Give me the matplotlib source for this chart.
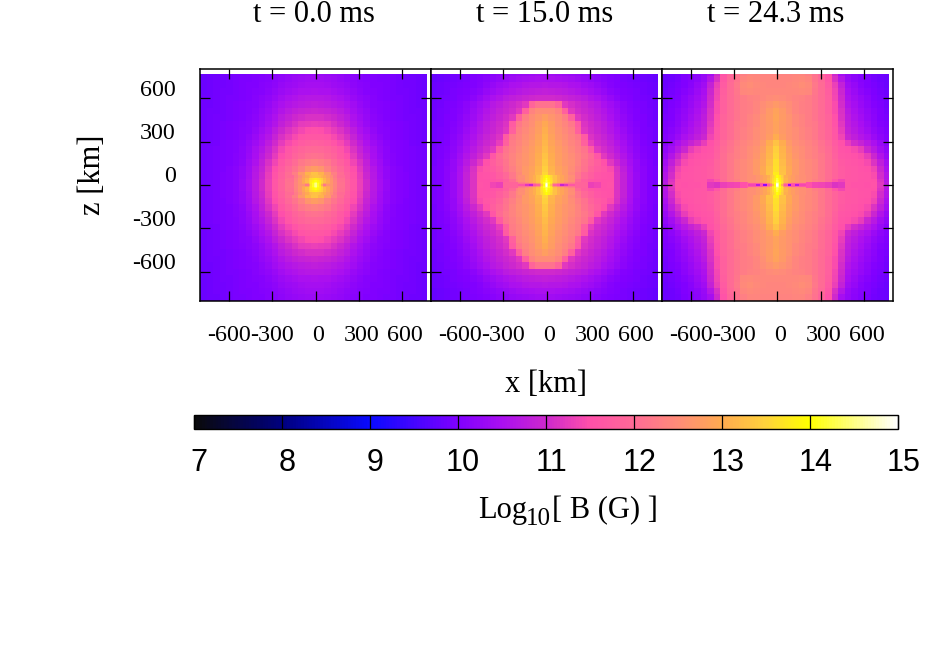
import numpy as np
import matplotlib
matplotlib.use('Agg')
import matplotlib.pyplot as plt
from matplotlib.colors import LinearSegmentedColormap
from matplotlib.transforms import ScaledTranslation

# log10 B on the coarse grid, one quarter of each panel (row = z outwards, col = x outwards)
panel_a = [
    [14.0, 13.55, 12.92, 12.4, 12.1, 11.85, 11.6, 11.3, 11.0, 10.7, 10.45, 10.25, 10.12, 10.05, 10.0, 9.96, 9.93, 9.9],
    [13.3, 13.1, 12.7, 12.3, 12.04, 11.8, 11.55, 11.26, 10.96, 10.67, 10.43, 10.24, 10.11, 10.05, 10.0, 9.96, 9.93, 9.9],
    [12.75, 12.65, 12.37, 12.15, 11.95, 11.73, 11.48, 11.2, 10.9, 10.63, 10.4, 10.22, 10.1, 10.04, 9.99, 9.96, 9.93, 9.9],
    [12.37, 12.3, 12.2, 12.0, 11.83, 11.63, 11.37, 11.1, 10.83, 10.55, 10.35, 10.18, 10.09, 10.03, 9.99, 9.95, 9.92, 9.89],
    [12.1, 12.07, 11.98, 11.85, 11.68, 11.47, 11.24, 10.98, 10.72, 10.48, 10.3, 10.15, 10.07, 10.01, 9.98, 9.94, 9.91, 9.88],
    [11.98, 11.95, 11.88, 11.75, 11.6, 11.4, 11.15, 10.9, 10.65, 10.45, 10.26, 10.13, 10.06, 10.01, 9.97, 9.94, 9.91, 9.88],
    [11.8, 11.77, 11.7, 11.58, 11.43, 11.23, 11.01, 10.78, 10.56, 10.37, 10.22, 10.11, 10.05, 10.0, 9.97, 9.93, 9.9, 9.88],
    [11.65, 11.63, 11.57, 11.43, 11.28, 11.1, 10.88, 10.65, 10.47, 10.29, 10.17, 10.08, 10.03, 9.99, 9.95, 9.92, 9.9, 9.87],
    [11.5, 11.47, 11.4, 11.28, 11.15, 10.98, 10.77, 10.56, 10.39, 10.23, 10.12, 10.07, 10.01, 9.97, 9.94, 9.92, 9.89, 9.86],
    [11.3, 11.28, 11.22, 11.12, 10.99, 10.82, 10.62, 10.44, 10.3, 10.18, 10.1, 10.05, 10.0, 9.97, 9.94, 9.91, 9.89, 9.86],
    [11.12, 11.1, 11.05, 10.97, 10.86, 10.72, 10.55, 10.39, 10.26, 10.15, 10.08, 10.03, 9.99, 9.96, 9.93, 9.91, 9.88, 9.86],
    [10.95, 10.93, 10.88, 10.82, 10.72, 10.6, 10.46, 10.33, 10.22, 10.12, 10.06, 10.02, 9.98, 9.95, 9.93, 9.9, 9.88, 9.85],
    [10.8, 10.78, 10.74, 10.68, 10.6, 10.5, 10.38, 10.27, 10.17, 10.09, 10.04, 10.0, 9.97, 9.95, 9.92, 9.9, 9.87, 9.85],
    [10.68, 10.66, 10.63, 10.57, 10.5, 10.41, 10.31, 10.21, 10.13, 10.07, 10.03, 9.99, 9.96, 9.94, 9.92, 9.89, 9.87, 9.85],
    [10.55, 10.53, 10.5, 10.45, 10.39, 10.32, 10.23, 10.15, 10.09, 10.05, 10.01, 9.98, 9.96, 9.93, 9.91, 9.89, 9.87, 9.84],
    [10.45, 10.44, 10.41, 10.37, 10.32, 10.25, 10.17, 10.11, 10.07, 10.03, 10.0, 9.97, 9.95, 9.93, 9.9, 9.88, 9.86, 9.84],
    [10.39, 10.38, 10.35, 10.32, 10.27, 10.2, 10.14, 10.09, 10.05, 10.02, 9.99, 9.97, 9.94, 9.92, 9.9, 9.88, 9.86, 9.84],
    [10.33, 10.32, 10.29, 10.26, 10.22, 10.16, 10.11, 10.07, 10.03, 10.0, 9.98, 9.96, 9.94, 9.92, 9.9, 9.87, 9.85, 9.83],
]
panel_b = [
    [13.75, 13.25, 12.9, 12.65, 12.35, 12.05, 11.8, 11.65, 11.55, 11.5, 11.5, 11.15, 10.85, 10.55, 10.3, 10.15, 10.03, 9.95],
    [13.55, 13.15, 12.9, 12.7, 12.45, 12.2, 11.95, 11.75, 11.6, 11.55, 11.5, 11.15, 10.85, 10.55, 10.3, 10.15, 10.03, 9.95],
    [13.45, 13.1, 12.85, 12.7, 12.5, 12.3, 12.1, 11.85, 11.7, 11.6, 11.45, 11.1, 10.8, 10.5, 10.28, 10.13, 10.02, 9.94],
    [13.35, 13.05, 12.8, 12.65, 12.55, 12.35, 12.15, 11.95, 11.75, 11.5, 11.2, 10.95, 10.7, 10.45, 10.25, 10.1, 10.0, 9.93],
    [13.3, 13.0, 12.8, 12.65, 12.5, 12.35, 12.2, 12.0, 11.6, 11.2, 11.0, 10.8, 10.6, 10.38, 10.2, 10.07, 9.98, 9.92],
    [13.2, 12.95, 12.75, 12.6, 12.45, 12.3, 12.15, 11.7, 11.2, 11.05, 10.9, 10.7, 10.5, 10.32, 10.16, 10.05, 9.97, 9.91],
    [13.15, 12.9, 12.7, 12.55, 12.4, 12.25, 11.8, 11.25, 11.05, 10.95, 10.8, 10.62, 10.44, 10.27, 10.13, 10.03, 9.96, 9.9],
    [13.1, 12.85, 12.65, 12.5, 12.35, 12.2, 11.7, 11.15, 11.0, 10.88, 10.72, 10.55, 10.38, 10.23, 10.1, 10.01, 9.95, 9.89],
    [13.05, 12.8, 12.6, 12.45, 12.3, 11.8, 11.2, 11.05, 10.92, 10.8, 10.65, 10.48, 10.33, 10.18, 10.07, 9.99, 9.94, 9.88],
    [12.95, 12.75, 12.55, 12.4, 12.2, 11.7, 11.15, 11.0, 10.88, 10.75, 10.6, 10.43, 10.28, 10.14, 10.05, 9.98, 9.93, 9.88],
    [12.8, 12.65, 12.5, 12.3, 11.8, 11.2, 11.05, 10.92, 10.8, 10.67, 10.52, 10.37, 10.23, 10.1, 10.03, 9.97, 9.92, 9.87],
    [12.5, 12.5, 12.35, 11.8, 11.2, 11.05, 10.95, 10.85, 10.73, 10.6, 10.45, 10.32, 10.18, 10.07, 10.01, 9.95, 9.91, 9.86],
    [12.1, 12.1, 11.9, 11.2, 11.08, 10.98, 10.88, 10.78, 10.66, 10.53, 10.4, 10.26, 10.14, 10.05, 9.99, 9.94, 9.9, 9.85],
    [11.0, 11.0, 10.97, 10.92, 10.87, 10.8, 10.72, 10.62, 10.5, 10.38, 10.25, 10.14, 10.05, 10.0, 9.96, 9.92, 9.88, 9.84],
    [10.82, 10.8, 10.78, 10.74, 10.68, 10.62, 10.55, 10.46, 10.36, 10.26, 10.15, 10.07, 10.02, 9.97, 9.94, 9.9, 9.87, 9.83],
    [10.66, 10.65, 10.63, 10.6, 10.55, 10.5, 10.43, 10.35, 10.26, 10.17, 10.09, 10.03, 9.99, 9.95, 9.92, 9.89, 9.86, 9.82],
    [10.52, 10.51, 10.49, 10.46, 10.42, 10.37, 10.31, 10.24, 10.17, 10.1, 10.04, 10.0, 9.96, 9.93, 9.9, 9.87, 9.84, 9.81],
    [10.4, 10.39, 10.37, 10.34, 10.31, 10.27, 10.21, 10.16, 10.1, 10.05, 10.0, 9.97, 9.94, 9.91, 9.88, 9.86, 9.83, 9.8],
]
panel_c = [
    [13.85, 13.3, 12.9, 12.7, 12.55, 12.45, 12.3, 12.2, 12.0, 11.6, 11.4, 11.6, 11.6, 11.55, 11.55, 11.5, 11.15, 10.65],
    [13.75, 13.3, 12.95, 12.7, 12.55, 12.45, 12.35, 12.2, 12.05, 11.85, 11.7, 11.65, 11.62, 11.58, 11.55, 11.45, 11.05, 10.6],
    [13.65, 13.25, 12.95, 12.7, 12.55, 12.45, 12.35, 12.2, 12.05, 11.85, 11.7, 11.65, 11.6, 11.55, 11.5, 11.35, 10.95, 10.5],
    [13.6, 13.2, 12.9, 12.7, 12.55, 12.45, 12.35, 12.2, 12.05, 11.85, 11.68, 11.62, 11.58, 11.52, 11.42, 11.15, 10.8, 10.42],
    [13.5, 13.15, 12.85, 12.65, 12.5, 12.4, 12.3, 12.2, 12.05, 11.8, 11.62, 11.58, 11.52, 11.45, 11.25, 10.95, 10.6, 10.3],
    [13.45, 13.1, 12.8, 12.6, 12.5, 12.4, 12.3, 12.15, 12.0, 11.75, 11.58, 11.5, 11.42, 11.25, 10.95, 10.7, 10.42, 10.2],
    [13.3, 13.0, 12.7, 12.55, 12.45, 12.35, 12.25, 12.1, 11.95, 11.7, 11.5, 11.25, 11.05, 10.9, 10.7, 10.5, 10.3, 10.12],
    [13.0, 12.75, 12.6, 12.5, 12.4, 12.3, 12.2, 12.05, 11.9, 11.65, 11.35, 10.95, 10.8, 10.65, 10.5, 10.33, 10.17, 10.05],
    [12.85, 12.7, 12.6, 12.5, 12.4, 12.3, 12.2, 12.05, 11.9, 11.6, 11.25, 10.85, 10.7, 10.55, 10.38, 10.23, 10.1, 10.0],
    [12.85, 12.7, 12.6, 12.45, 12.35, 12.25, 12.2, 12.05, 11.85, 11.55, 11.2, 10.8, 10.65, 10.48, 10.32, 10.18, 10.05, 9.97],
    [12.9, 12.72, 12.6, 12.45, 12.35, 12.25, 12.15, 12.0, 11.85, 11.5, 11.15, 10.75, 10.58, 10.42, 10.27, 10.13, 10.02, 9.94],
    [12.85, 12.7, 12.55, 12.4, 12.3, 12.25, 12.15, 12.0, 11.8, 11.45, 11.1, 10.7, 10.52, 10.36, 10.22, 10.1, 10.0, 9.92],
    [12.7, 12.6, 12.5, 12.38, 12.3, 12.25, 12.15, 12.0, 11.8, 11.45, 11.05, 10.62, 10.46, 10.3, 10.18, 10.05, 9.97, 9.9],
    [12.5, 12.48, 12.42, 12.35, 12.32, 12.28, 12.15, 12.0, 11.8, 11.4, 11.0, 10.55, 10.4, 10.25, 10.13, 10.02, 9.94, 9.88],
    [12.42, 12.42, 12.42, 12.42, 12.45, 12.42, 12.18, 12.0, 11.75, 11.35, 10.95, 10.48, 10.32, 10.18, 10.08, 9.98, 9.91, 9.86],
    [12.4, 12.4, 12.42, 12.45, 12.52, 12.45, 12.2, 12.0, 11.7, 11.3, 10.85, 10.4, 10.25, 10.12, 10.03, 9.95, 9.89, 9.84],
    [12.4, 12.4, 12.4, 12.42, 12.46, 12.38, 12.15, 11.95, 11.65, 11.1, 10.65, 10.3, 10.17, 10.08, 10.0, 9.92, 9.87, 9.83],
    [12.35, 12.35, 12.35, 12.38, 12.4, 12.3, 12.1, 11.9, 11.55, 11.0, 10.45, 10.25, 10.13, 10.04, 9.97, 9.9, 9.86, 9.82],
]

# thin row along the midplane
mid_a = [14.3, 13.6, 12.95, 12.4, 12.1, 11.85, 11.6, 11.3, 11.0, 10.7, 10.45, 10.25, 10.12, 10.05, 10.0, 9.96, 9.93, 9.9]
mid_b = [14.0, 13.2, 12.7, 12.1, 11.9, 11.9, 11.85, 11.3, 11.35, 11.5, 11.55, 11.15, 10.85, 10.55, 10.3, 10.15, 10.03, 9.95]
mid_c = [14.0, 13.3, 12.9, 12.65, 11.8, 11.5, 11.4, 11.35, 11.3, 11.15, 11.2, 11.6, 11.55, 11.55, 11.5, 11.55, 11.2, 10.7]

# finer grid around the centre, same quarter layout
core_a = [
    [14.5, 14.4, 14.1, 13.7, 13.0, 12.2, 12.6, 12.6, 12.4, 12.1],
    [14.5, 14.4, 14.1, 13.8, 13.35, 12.8, 12.85, 12.65, 12.4, 12.1],
    [14.25, 14.15, 14.0, 13.8, 13.5, 13.2, 12.95, 12.65, 12.38, 12.1],
    [14.05, 14.0, 13.9, 13.72, 13.5, 13.2, 12.95, 12.65, 12.36, 12.08],
    [13.75, 13.72, 13.68, 13.55, 13.42, 13.15, 12.88, 12.6, 12.33, 12.07],
    [13.3, 13.28, 13.25, 13.2, 13.1, 12.95, 12.75, 12.52, 12.28, 12.03],
]
core_b = [
    [15.0, 14.6, 14.0, 13.3, 12.6, 11.9, 11.6, 10.9, 11.2, 11.6],
    [14.9, 14.5, 14.1, 13.6, 13.1, 12.6, 12.3, 12.0, 12.0, 12.1],
    [14.4, 14.3, 14.1, 13.8, 13.5, 13.2, 13.0, 12.8, 12.5, 12.3],
    [14.3, 14.15, 13.95, 13.7, 13.5, 13.25, 13.05, 12.85, 12.7, 12.5],
    [14.2, 14.05, 13.85, 13.6, 13.45, 13.25, 13.05, 12.9, 12.72, 12.5],
    [14.0, 13.9, 13.75, 13.55, 13.4, 13.25, 13.05, 12.9, 12.72, 12.55],
]
core_c = [
    [15.0, 14.6, 13.9, 13.1, 12.3, 11.7, 10.2, 11.5, 10.7, 11.4],
    [14.8, 14.5, 14.0, 13.5, 12.9, 12.3, 11.8, 11.7, 11.6, 11.6],
    [14.4, 14.3, 14.05, 13.7, 13.35, 13.05, 12.8, 12.65, 12.55, 12.45],
    [14.3, 14.15, 13.9, 13.6, 13.3, 13.1, 12.9, 12.75, 12.65, 12.55],
    [14.2, 14.05, 13.8, 13.55, 13.3, 13.1, 12.9, 12.75, 12.65, 12.55],
    [14.0, 13.9, 13.7, 13.45, 13.25, 13.05, 12.9, 12.75, 12.65, 12.55],
]

titles = ['t = 0.0 ms', 't = 15.0 ms', 't = 24.3 ms']
tick_vals = [-600, -300, 0, 300, 600]
cbar_ticks = [7, 8, 9, 10, 11, 12, 13, 14, 15]

# grid edges in km
x_edges = np.r_[-800 + 45.2 * np.arange(35), 773]
z_top = 44.5 * np.arange(18)
z_edges = np.r_[-800, -z_top[:0:-1], z_top, 765]
core_x = np.array([0, 6, 12, 24, 36, 48, 72, 96, 120, 150, 200])
core_z = np.array([0, 6, 12, 24, 36, 48, 72])
core_x = np.r_[-core_x[:0:-1], core_x]
core_z = np.r_[-core_z[:0:-1], core_z]

# colour scale
cm_pos = [7, 8, 9, 10, 10.5, 11, 11.5, 12, 12.5, 13, 13.5, 14, 14.5, 15]
cm_rgb = ['#0a0a0a', '#000080', '#0a0aff', '#8000ff', '#aa0ff0', '#cd28cd', '#ff50aa',
          '#ff6a96', '#ff8c78', '#ffaa50', '#ffd23c', '#ffff00', '#ffff82', '#ffffff']
cmap = LinearSegmentedColormap.from_list(
    'bfield', [((p - 7) / 8, c) for p, c in zip(cm_pos, cm_rgb)], N=256)


def mirror_x(row):
    # x centre column is shared
    row = np.atleast_2d(row)
    return np.hstack([row[:, ::-1], row[:, 1:]])


def mirror_core(q):
    q = np.array(q)
    q = np.vstack([q[::-1], q])
    return np.hstack([q[:, ::-1], q])


plt.rcParams['font.family'] = 'Liberation Serif'
plt.rcParams['axes.unicode_minus'] = False

W, H = 926, 649
fig = plt.figure(figsize=(W / 100, H / 100), dpi=100)


def px_axes(x0, x1, y0, y1):
    return fig.add_axes([x0 / W, 1 - y1 / H, (x1 - x0) / W, (y1 - y0) / H])


def shift(lab, dx, dy):
    lab.set_transform(lab.get_transform() + ScaledTranslation(dx / 100, dy / 100, fig.dpi_scale_trans))


lefts = [200.0, 430.8, 661.6]
panels = zip([panel_a, panel_b, panel_c], [mid_a, mid_b, mid_c], [core_a, core_b, core_c])
for i, (quarter, mid, core) in enumerate(panels):
    ax = px_axes(lefts[i], lefts[i] + 231.4, 69.3, 300.7)
    q = np.array(quarter)
    # one row above and below z = 0, last row thin at the top
    full = mirror_x(np.vstack([q[::-1], q]))
    mesh = ax.pcolormesh(x_edges, z_edges, full, cmap=cmap, vmin=7, vmax=15, antialiased=False)
    ax.pcolormesh(x_edges, [-22, 22], mirror_x(mid), cmap=cmap, vmin=7, vmax=15, antialiased=False)
    ax.pcolormesh(core_x, core_z, mirror_core(core), cmap=cmap, vmin=7, vmax=15, antialiased=False)
    ax.set_xlim(-800, 800)
    ax.set_ylim(-800, 800)
    ax.set_xticks(tick_vals)
    ax.set_yticks(tick_vals)
    ax.tick_params(direction='in', top=True, right=True, length=7.5, width=0.9, labelsize=17.3)
    ax.tick_params(axis='x', pad=17.5)
    ax.tick_params(axis='y', pad=17.5)
    if i > 0:
        ax.set_yticklabels([])
    else:
        # y labels sit above their ticks
        for lab in ax.get_yticklabels():
            shift(lab, 0, 10.5)
    for sp in ax.spines.values():
        sp.set_linewidth(1.1)
    # x labels a bit right of the ticks for the positive values
    for val, lab in zip(tick_vals, ax.get_xticklabels()):
        if val >= 0:
            shift(lab, 2.5, 0)
    fig.text((lefts[i] + 115.7 - 1.5) / W, 1 - 22.5 / H, titles[i], ha='center', va='baseline', fontsize=22)

fig.text(546 / W, 1 - 392 / H, 'x [km]', ha='center', va='baseline', fontsize=22)
fig.text(93 / W, 1 - 175 / H, 'z [km]', ha='center', va='center', rotation=90, fontsize=22)

cax = px_axes(193.7, 898.3, 415, 429)
cb = fig.colorbar(mesh, cax=cax, orientation='horizontal', ticks=cbar_ticks)
cb.outline.set_linewidth(1.0)
cax.tick_params(direction='in', length=10, width=0.9, pad=14, labelsize=22)
for lab in cax.get_xticklabels():
    lab.set_fontfamily('Liberation Sans')
    shift(lab, 5, 0)

# Log10[ B (G) ] with a large subscript
fig.text(478 / W, 1 - 518 / H, 'Log', ha='left', va='baseline', fontsize=22)
fig.text(526 / W, 1 - 525 / H, '10', ha='left', va='baseline', fontsize=18)
fig.text(552 / W, 1 - 518 / H, '[ B (G) ]', ha='left', va='baseline', fontsize=22)

fig.savefig('out.png', dpi=100)
